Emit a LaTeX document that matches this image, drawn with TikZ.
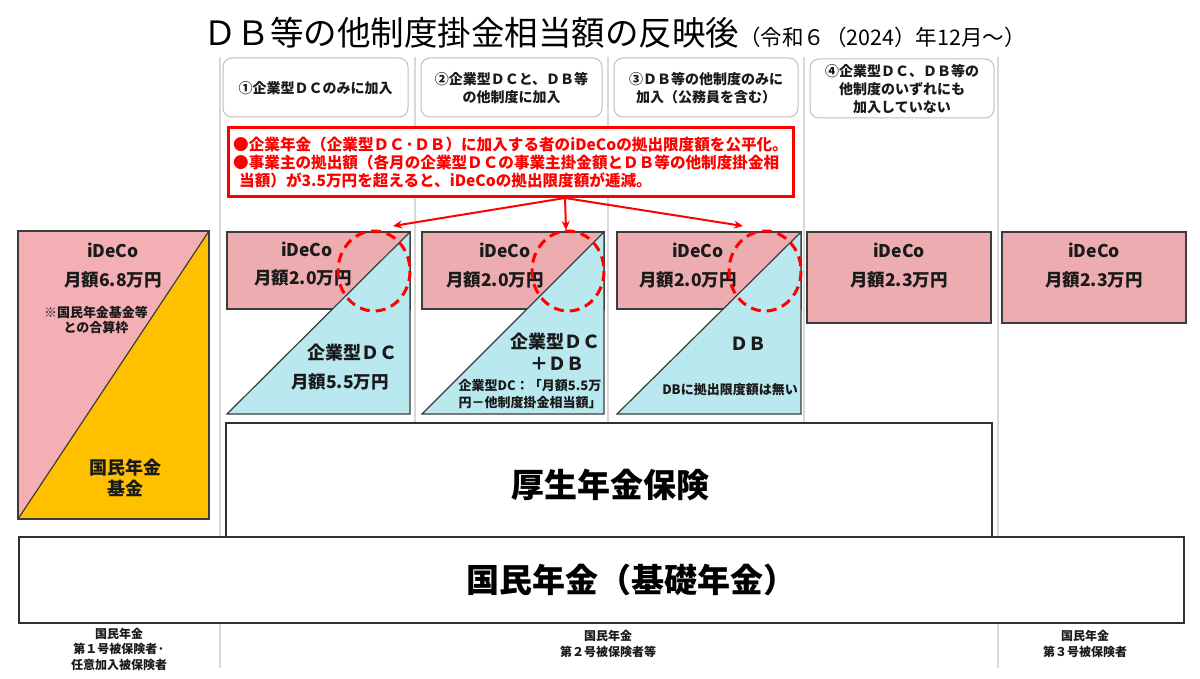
\documentclass[tikz,border=0pt]{standalone}
\usepackage{fontspec}
\setmainfont{Noto Sans CJK JP}
\usetikzlibrary{arrows.meta}
\definecolor{pinkA}{HTML}{F4AFB5}
\definecolor{pinkB}{HTML}{EDACAF}
\definecolor{blueA}{HTML}{B9E8EF}
\definecolor{yellowA}{HTML}{FFC000}
\definecolor{redA}{HTML}{FF0000}
\definecolor{gridgray}{HTML}{D9D9D9}
\definecolor{hdrgray}{HTML}{BFBFBF}
\definecolor{ink}{HTML}{1A1A1A}
\newcommand{\myfs}[2]{\fontsize{#1}{#2}\selectfont}
\tikzset{
  gridline/.style={draw=gridgray, line width=2pt},
  hdrbox/.style={draw=hdrgray, line width=1pt, rounded corners=9pt, fill=white},
  hdrtext/.style={font=\myfs{14}{18}\bfseries, text=ink, align=center, inner sep=0pt},
  pinkbox/.style={draw=ink!85, line width=1.2pt, fill=pinkB},
  bluetri/.style={draw=ink!85, line width=1.2pt, fill=blueA},
  dashcirc/.style={draw=redA, line width=3pt, dash pattern=on 10pt off 6pt},
  bigtext/.style={font=\myfs{17.5}{21}\bfseries, text=ink, align=center, inner sep=0pt},
  smalltext/.style={font=\myfs{13}{17}\bfseries, text=ink, align=center, inner sep=0pt},
  hugetext/.style={font=\myfs{33}{38}\bfseries, text=black, inner sep=0pt},
  plainbox/.style={draw=ink!90, line width=1.5pt, fill=white},
  foottext/.style={font=\myfs{12}{15.5}\bfseries, text=ink, align=center, inner sep=0pt},
  redarrow/.style={draw=redA, line width=2pt, -{Stealth[length=9pt,width=8pt]}},
}
\begin{document}
\begin{tikzpicture}[x=1pt,y=-1pt]
\useasboundingbox (0,0) rectangle (1200,679);
\fill[white] (0,0) rectangle (1200,679);
% grid lines
\draw[gridline] (220,57) -- (220,668);
\draw[gridline] (415,57) -- (415,423);
\draw[gridline] (608,57) -- (608,423);
\draw[gridline] (804,57) -- (804,423);
\draw[gridline] (998,57) -- (998,668);
% title
\node[anchor=base west, inner sep=0pt, text=black] (title) at (203,46)
  {{\myfs{33.5}{38}ＤＢ等の他制度掛金相当額の反映後}{\myfs{21.5}{24}（令和６（2024）年12月～）}};
% header boxes
\draw[hdrbox] (223,58) rectangle (408,117);
\draw[hdrbox] (421,58) rectangle (602,117);
\draw[hdrbox] (614,58) rectangle (798,117);
\draw[hdrbox] (810,59) rectangle (994,118);
\node[hdrtext] (h1) at (315.5,88) {①企業型ＤＣのみに加入};
\node[hdrtext] (h2) at (511.5,88) {②企業型ＤＣと、ＤＢ等\\の他制度に加入};
\node[hdrtext] (h3) at (706,88) {③ＤＢ等の他制度のみに\\加入（公務員を含む）};
\node[hdrtext] (h4) at (902,89) {④企業型ＤＣ、ＤＢ等の\\他制度のいずれにも\\加入していない};
% red note
\node[draw=redA, line width=3pt, fill=white, minimum width=565pt, minimum height=69pt, inner sep=0pt] (note) at (510.5,162.5) {};
\node[anchor=west, inner sep=0pt, text=redA, font=\myfs{15.6}{18}\bfseries, align=left] (notet) at (233,163)
  {●企業年金（企業型ＤＣ·ＤＢ）に加入する者のiDeCoの拠出限度額を公平化。\\
   ●事業主の拠出額（各月の企業型ＤＣの事業主掛金額とＤＢ等の他制度掛金相\\
   \hspace*{6pt}当額）が3.5万円を超えると、iDeCoの拠出限度額が逓減。};
\coordinate (src) at (565,198);
\coordinate (t1) at (393,226);
\coordinate (t2) at (566,230);
\coordinate (t3) at (743,226);
\draw[redarrow] (src) -- (t1);
\draw[redarrow] (src) -- (t2);
\draw[redarrow] (src) -- (t3);
% left big box
\fill[pinkA] (18,231) -- (209,231) -- (18,519) -- cycle;
\fill[yellowA] (209,231) -- (209,519) -- (18,519) -- cycle;
\draw[ink!85, line width=1.2pt] (18,519) -- (209,231);
\draw[ink!85, line width=1.2pt] (18,231) rectangle (209,519);
\node[bigtext] (l1) at (113,250) {iDeCo};
\node[bigtext] (l2) at (113,280) {月額6.8万円};
\node[smalltext, font=\myfs{13}{15}\bfseries] (l3) at (96,320) {※国民年金基金等\\との合算枠};
\node[bigtext, font=\myfs{18}{21}\bfseries] (l4) at (125,478) {国民年金\\基金};
% column 1
\draw[pinkbox] (227,232) rectangle (410,309);
\draw[bluetri] (227,414) -- (410,232) -- (410,414) -- cycle;
\node[bigtext] (c1a) at (307,249) {iDeCo};
\node[bigtext] (c1b) at (303,278) {月額2.0万円};
\node[bigtext, font=\myfs{18}{21}\bfseries] (c1c) at (352,353) {企業型ＤＣ};
\node[bigtext] (c1d) at (340,382) {月額5.5万円};
\draw[dashcirc] (374,271) ellipse [x radius=36, y radius=40];
% column 2
\draw[pinkbox] (422,232) rectangle (604,309);
\draw[bluetri] (422,414) -- (604,232) -- (604,414) -- cycle;
\node[bigtext] (c2a) at (505,250) {iDeCo};
\node[bigtext] (c2b) at (495,280) {月額2.0万円};
\node[bigtext, font=\myfs{18}{21}\bfseries] (c2c) at (555,342) {企業型ＤＣ};
\node[bigtext, font=\myfs{18}{21}\bfseries] (c2d) at (557,364) {＋ＤＢ};
\node[smalltext] (c2e) at (530,394) {企業型DC：「月額5.5万\\円－他制度掛金相当額」};
\draw[dashcirc] (568,271) ellipse [x radius=36, y radius=40];
% column 3
\draw[pinkbox] (617,232) rectangle (801,309);
\draw[bluetri] (617,414) -- (801,232) -- (801,414) -- cycle;
\node[bigtext] (c3a) at (698,250) {iDeCo};
\node[bigtext] (c3b) at (688,280) {月額2.0万円};
\node[bigtext, font=\myfs{18}{21}\bfseries] (c3c) at (748,344) {ＤＢ};
\node[smalltext] (c3d) at (730,390) {DBに拠出限度額は無い};
\draw[dashcirc] (765,271) ellipse [x radius=36, y radius=40];
% column 4 and 5
\draw[pinkbox] (807,232) rectangle (991,323);
\node[bigtext] (c4a) at (899,250) {iDeCo};
\node[bigtext] (c4b) at (899,280) {月額2.3万円};
\draw[pinkbox] (1002,232) rectangle (1186,323);
\node[bigtext] (c5a) at (1094,250) {iDeCo};
\node[bigtext] (c5b) at (1094,280) {月額2.3万円};
% pension boxes
\draw[plainbox] (226,423) rectangle (992,537);
\node[hugetext] (kosei) at (610,485) {厚生年金保険};
\draw[plainbox] (19,537) rectangle (1184,623);
\node[hugetext] (kokumin) at (631,580) {国民年金（基礎年金）};
% footers
\node[foottext] (f1) at (119,649) {国民年金\\第１号被保険者·\\任意加入被保険者};
\node[foottext] (f2) at (608,644) {国民年金\\第２号被保険者等};
\node[foottext] (f3) at (1085,644) {国民年金\\第３号被保険者};
\end{tikzpicture}
\end{document}
